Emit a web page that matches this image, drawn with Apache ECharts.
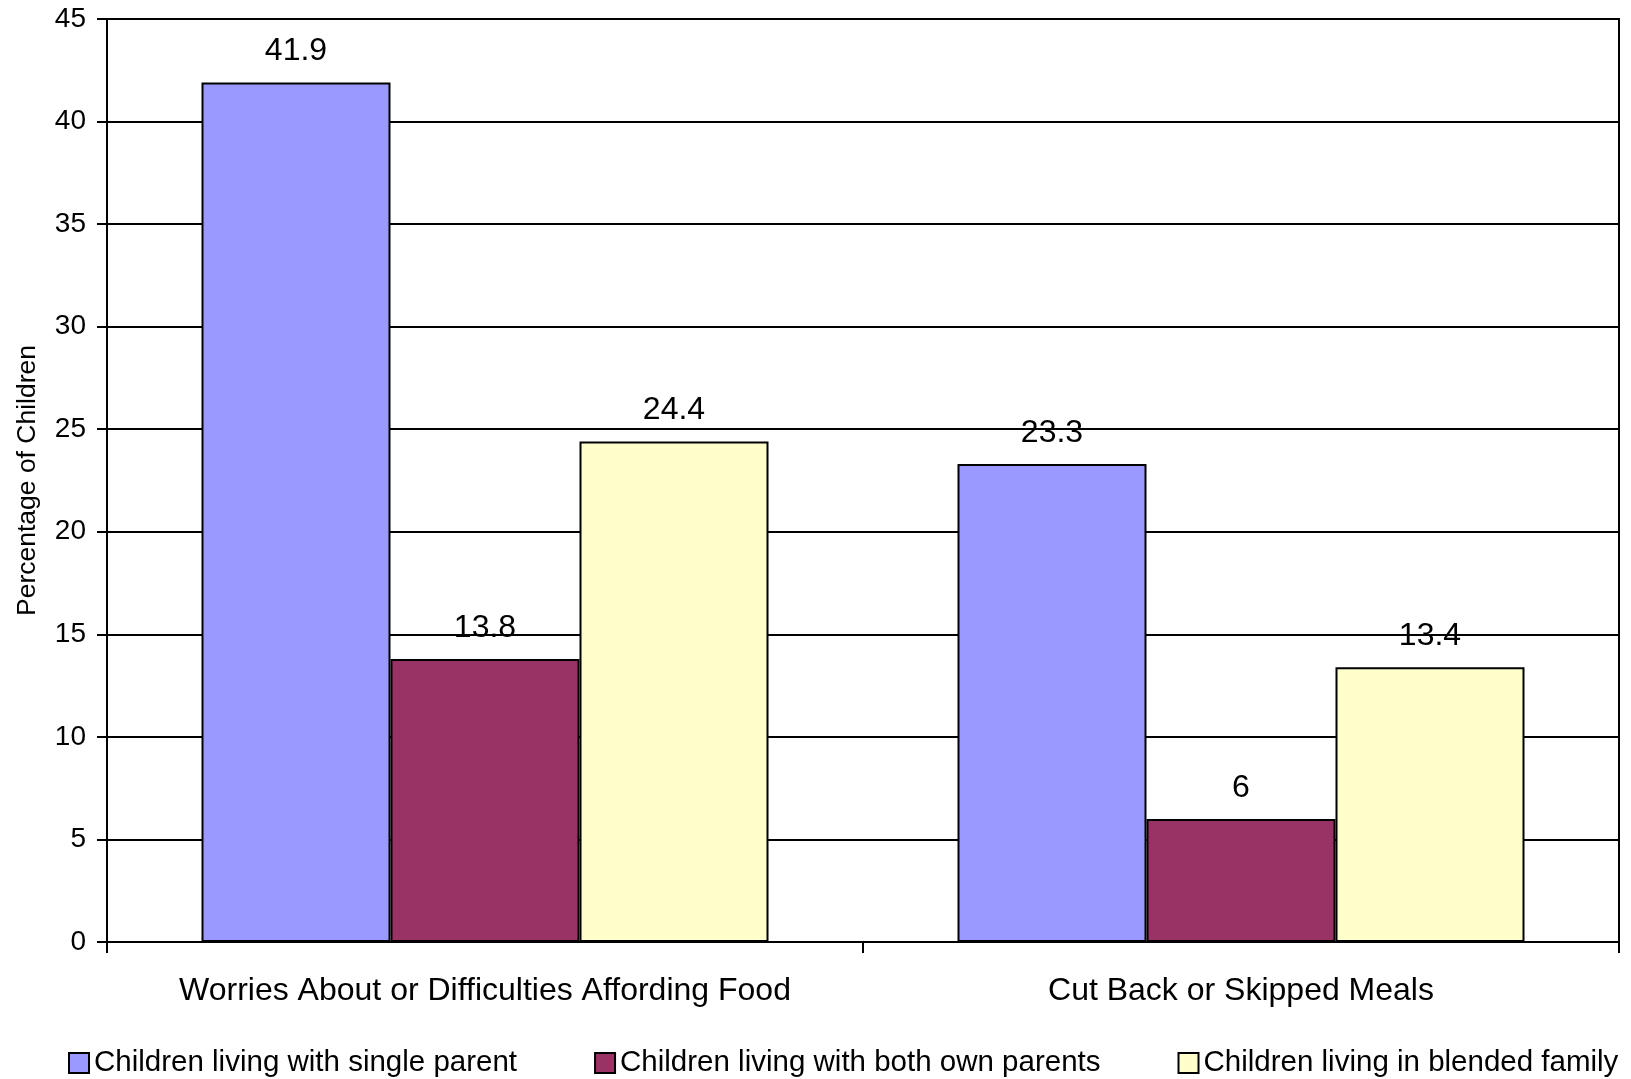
<!DOCTYPE html>
<html>
<head>
<meta charset="utf-8">
<title>Percentage of Children by Family Type</title>
<script src="https://cdn.jsdelivr.net/npm/echarts@6/dist/echarts.min.js"></script>
<style>
  html, body { margin: 0; padding: 0; background: #fff; }
  #chart { width: 1631px; height: 1079px; }
</style>
</head>
<body>
<div id="chart"></div>
<script>
// Categories along the x axis
const categories = [
  'Worries About or Difficulties Affording Food',
  'Cut Back or Skipped Meals'
];

// Series names (legend order)
const seriesNames = [
  'Children living with single parent',
  'Children living with both own parents',
  'Children living in blended family'
];

// Percentages per category for each family type
const singleParent = [41.9, 23.3];
const bothParents = [13.8, 6];
const blendedFamily = [24.4, 13.4];

// Value axis ticks
const yTicks = [0, 5, 10, 15, 20, 25, 30, 35, 40, 45];

const colors = ['#9999FF', '#993366', '#FFFFCC'];
const FONT = "'Liberation Sans', Arial, sans-serif";

const seriesData = [singleParent, bothParents, blendedFamily];

const chart = echarts.init(document.getElementById('chart'), null, { renderer: 'canvas' });

chart.setOption({
  animation: false,
  backgroundColor: '#ffffff',
  textStyle: { fontFamily: FONT, color: '#000' },
  grid: {
    left: 107, right: 12, top: 19, bottom: 137,
    show: true, borderColor: '#000', borderWidth: 2, backgroundColor: 'transparent'
  },
  legend: {
    data: seriesNames,
    left: 68,
    top: 1047,
    padding: 0,
    itemWidth: 20,
    itemHeight: 20,
    itemGap: 77,
    icon: 'rect',
    itemStyle: { borderColor: '#000', borderWidth: 2 },
    textStyle: { fontFamily: FONT, fontSize: 29.5, color: '#000', lineHeight: 32 }
  },
  xAxis: {
    type: 'category',
    data: categories,
    boundaryGap: true,
    axisLine: { lineStyle: { color: '#000', width: 2 } },
    axisTick: { show: true, alignWithLabel: false, length: 11, lineStyle: { color: '#000', width: 2 } },
    axisLabel: { interval: 0, fontFamily: FONT, fontSize: 32, color: '#000', margin: 33 }
  },
  yAxis: {
    type: 'value',
    min: yTicks[0],
    max: yTicks[yTicks.length - 1],
    interval: yTicks[1] - yTicks[0],
    name: 'Percentage of Children',
    nameLocation: 'middle',
    nameRotate: 90,
    nameGap: 66,
    nameTextStyle: { fontFamily: FONT, fontSize: 26.5, color: '#000' },
    axisLine: { show: true, lineStyle: { color: '#000', width: 2 } },
    axisTick: { show: true, length: 10, lineStyle: { color: '#000', width: 2 } },
    axisLabel: { fontFamily: FONT, fontSize: 28, color: '#000', margin: 21, padding: [6, 0, 0, 0] },
    splitLine: { show: true, lineStyle: { color: '#000', width: 2 } }
  },
  series: seriesNames.map((name, i) => ({
    name: name,
    type: 'bar',
    data: seriesData[i],
    barGap: '0%',
    barCategoryGap: '25%',
    itemStyle: { color: colors[i], borderColor: '#000', borderWidth: 2 },
    label: {
      show: true,
      position: 'top',
      distance: 15,
      fontFamily: FONT,
      fontSize: 32,
      color: '#000'
    }
  }))
});
</script>
</body>
</html>
